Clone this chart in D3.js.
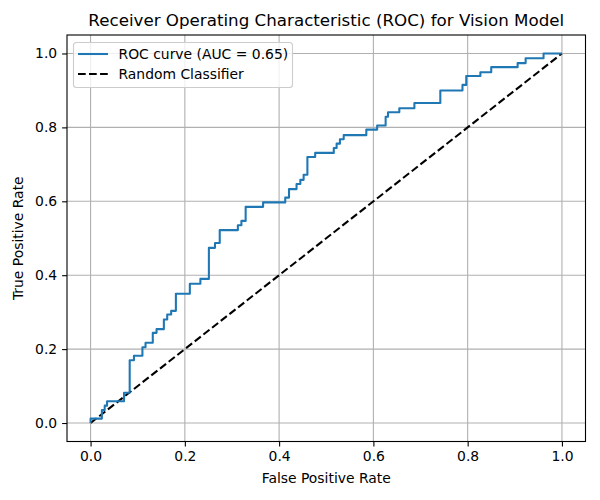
<!DOCTYPE html>
<html>
<head>
<meta charset="utf-8">
<script src="https://cdn.jsdelivr.net/npm/d3@7"></script>
<style>
  body { margin: 0; background: #fff; }
  text { font-family: "DejaVu Sans", sans-serif; fill: #000; }
</style>
</head>
<body>
<div id="chart"></div>
<script>
//////////////////////// Data ////////////////////////////
// corner points of the ROC step curve
var fpr = [0, 0, 0.024, 0.024, 0.03, 0.03, 0.035, 0.035, 0.071, 0.071, 0.083, 0.083,
  0.092, 0.092, 0.110, 0.110, 0.1166, 0.1166, 0.132, 0.132, 0.140, 0.140, 0.1555, 0.1555,
  0.1626, 0.1626, 0.171, 0.171, 0.181, 0.181, 0.2106, 0.2106, 0.233, 0.233, 0.251, 0.251,
  0.264, 0.264, 0.274, 0.274, 0.3125, 0.3125, 0.32, 0.32, 0.329, 0.329, 0.366, 0.366,
  0.413, 0.413, 0.421, 0.421, 0.437, 0.437, 0.445, 0.445, 0.452, 0.452, 0.46, 0.46,
  0.4765, 0.4765, 0.516, 0.516, 0.522, 0.522, 0.529, 0.529, 0.537, 0.537, 0.585, 0.585,
  0.608, 0.608, 0.626, 0.626, 0.631, 0.631, 0.655, 0.655, 0.687, 0.687, 0.742, 0.742,
  0.789, 0.789, 0.797, 0.797, 0.827, 0.827, 0.85, 0.85, 0.906, 0.906, 0.923, 0.923,
  0.961, 0.961, 1.0];
var tpr = [0, 0.012, 0.012, 0.035, 0.035, 0.047, 0.047, 0.059, 0.059, 0.082, 0.082, 0.170,
  0.170, 0.182, 0.182, 0.205, 0.205, 0.217, 0.217, 0.244, 0.244, 0.254, 0.254, 0.280,
  0.280, 0.2937, 0.2937, 0.3035, 0.3035, 0.350, 0.350, 0.377, 0.377, 0.390, 0.390, 0.474,
  0.474, 0.487, 0.487, 0.522, 0.522, 0.535, 0.535, 0.547, 0.547, 0.585, 0.585, 0.597,
  0.597, 0.61, 0.61, 0.633, 0.633, 0.647, 0.647, 0.658, 0.658, 0.672, 0.672, 0.72,
  0.72, 0.731, 0.731, 0.744, 0.744, 0.756, 0.756, 0.768, 0.768, 0.779, 0.779, 0.794,
  0.794, 0.805, 0.805, 0.829, 0.829, 0.841, 0.841, 0.852, 0.852, 0.866, 0.866, 0.9,
  0.9, 0.915, 0.915, 0.939, 0.939, 0.949, 0.949, 0.963, 0.963, 0.974, 0.974, 0.987,
  0.987, 1.0, 1.0];
var diagonal = [0, 1];
var xTicks = [0, 0.2, 0.4, 0.6, 0.8, 1.0];
var yTicks = [0, 0.2, 0.4, 0.6, 0.8, 1.0];
var legendLabels = ["ROC curve (AUC = 0.65)", "Random Classifier"];

//////////////////////// Set-up ////////////////////////////
var W = 600, H = 500;
var margin = {top: 35, right: 14.5, bottom: 58.5, left: 67},
    width = W - margin.left - margin.right,
    height = H - margin.top - margin.bottom;

var x = d3.scaleLinear().domain([-0.05, 1.05]).range([0, width]);
var y = d3.scaleLinear().domain([-0.05, 1.05]).range([height, 0]);

var svg = d3.select("#chart").append("svg")
    .attr("width", W)
    .attr("height", H)
  .append("g")
    .attr("transform", "translate(" + margin.left + "," + margin.top + ")");

//Grid
svg.append("g").selectAll("line.gx")
  .data(xTicks).enter().append("line")
    .attr("x1", function(d) { return x(d); })
    .attr("x2", function(d) { return x(d); })
    .attr("y1", 0).attr("y2", height)
    .style("stroke", "#b0b0b0").style("stroke-width", 1.1);
svg.append("g").selectAll("line.gy")
  .data(yTicks).enter().append("line")
    .attr("y1", function(d) { return y(d); })
    .attr("y2", function(d) { return y(d); })
    .attr("x1", 0).attr("x2", width)
    .style("stroke", "#b0b0b0").style("stroke-width", 1.1);

//Axes
var xAxis = d3.axisBottom(x).tickValues(xTicks).tickFormat(d3.format(".1f"))
  .tickSizeInner(4.9).tickSizeOuter(0).tickPadding(4.9);
var yAxis = d3.axisLeft(y).tickValues(yTicks).tickFormat(d3.format(".1f"))
  .tickSizeInner(4.9).tickSizeOuter(0).tickPadding(4.9);

var gx = svg.append("g")
  .attr("transform", "translate(0," + height + ")")
  .call(xAxis);
var gy = svg.append("g").call(yAxis);
[gx, gy].forEach(function(g) {
  g.select(".domain").remove();
  g.selectAll("line").style("stroke", "#000").style("stroke-width", 1.1);
  g.selectAll("text").style("font-size", "13.9px").style("font-family", "DejaVu Sans, sans-serif").style("fill", "#000");
});

//Lines
var line = d3.line()
  .x(function(d) { return x(d[0]); })
  .y(function(d) { return y(d[1]); });

svg.append("path")
  .datum(d3.zip(diagonal, diagonal))
  .attr("d", line)
  .style("fill", "none")
  .style("stroke", "#000")
  .style("stroke-width", 2.08)
  .style("stroke-dasharray", "7.7,3.33");

svg.append("path")
  .datum(d3.zip(fpr, tpr))
  .attr("d", line)
  .style("fill", "none")
  .style("stroke", "#1f77b4")
  .style("stroke-width", 2.08)
  .style("stroke-linejoin", "round");

//Frame
svg.append("rect")
  .attr("width", width).attr("height", height)
  .style("fill", "none").style("stroke", "#000").style("stroke-width", 1.1);

//Labels
svg.append("text")
  .attr("x", width / 2).attr("y", -9)
  .style("text-anchor", "middle").style("font-size", "16.7px")
  .text("Receiver Operating Characteristic (ROC) for Vision Model");

svg.append("text")
  .attr("x", width / 2).attr("y", height + 41)
  .style("text-anchor", "middle").style("font-size", "13.9px")
  .text("False Positive Rate");

svg.append("text")
  .attr("transform", "translate(" + (-44) + "," + (height / 2) + ") rotate(-90)")
  .style("text-anchor", "middle").style("font-size", "13.9px")
  .text("True Positive Rate");

//Legend
var legend = svg.append("g").attr("transform", "translate(6.5,7.5)");
legend.append("rect")
  .attr("width", 219).attr("height", 45)
  .attr("rx", 3).attr("ry", 3)
  .style("fill", "#fff").style("fill-opacity", 0.8)
  .style("stroke", "#cccccc").style("stroke-width", 1.1);

legendLabels.forEach(function(label, i) {
  var ly = 11.5 + i * 20;
  legend.append("line")
    .attr("x1", 4.5).attr("x2", 34.5)
    .attr("y1", ly).attr("y2", ly)
    .style("stroke", i === 0 ? "#1f77b4" : "#000")
    .style("stroke-width", 2.08)
    .style("stroke-dasharray", i === 0 ? null : "7.7,3.33");
  legend.append("text")
    .attr("x", 45).attr("y", ly)
    .attr("dy", "0.35em")
    .style("font-size", "13.9px")
    .text(label);
});
</script>
</body>
</html>
